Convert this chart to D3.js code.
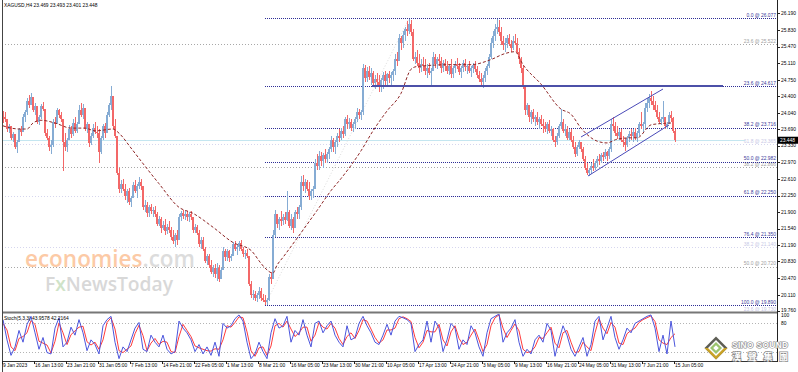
<!DOCTYPE html>
<html><head><meta charset="utf-8">
<script src="https://cdn.jsdelivr.net/npm/d3@7/dist/d3.min.js"></script>
<style>html,body{margin:0;padding:0;background:#fff;}svg{display:block;font-family:"Liberation Sans",Arial,sans-serif;}</style>
</head><body>
<svg id="c" width="798" height="372"></svg>
<script>
// ---------- DATA ----------
const firstOpen = 23.98;
const highs = [
24.08,24.05,23.90,23.80,23.72,23.62,23.50,23.45,23.72,23.75,24.02,24.10,24.35,24.42,24.46,24.35,24.25,24.15,24.00,24.22,24.28,23.95,23.68,23.55,23.45,
23.90,23.95,24.15,24.12,24.05,23.80,23.60,23.50,23.78,23.75,23.90,23.95,23.85,24.20,24.25,24.22,24.00,23.85,23.70,23.60,23.80,23.85,23.75,23.70,23.55,23.80,23.82,24.05,24.25,24.62,24.40,23.90,23.55,22.85,22.60,
22.62,22.50,22.40,22.42,22.25,22.55,22.58,22.50,22.65,22.62,22.30,22.15,22.12,22.05,22.08,22.00,22.02,21.90,21.82,21.80,21.70,21.75,21.65,21.70,21.58,21.50,21.45,21.50,21.85,21.93,
21.95,21.92,21.93,21.90,21.92,21.75,21.65,21.62,21.50,21.35,21.35,21.15,21.00,21.00,20.86,20.75,20.78,20.80,20.75,20.70,21.15,21.10,21.10,21.08,21.00,21.25,21.28,21.20,21.28,21.30,21.15,21.08,21.10,20.95,20.40,
20.22,20.20,20.15,20.28,20.25,20.12,20.10,20.05,20.55,20.60,21.50,21.95,21.85,21.80,21.92,21.85,21.90,22.35,21.95,21.85,21.80,21.95,22.00,22.05,22.68,
22.70,22.62,22.60,22.55,22.40,22.45,23.05,23.15,23.22,23.20,23.18,23.25,23.20,23.30,23.55,23.50,23.45,23.60,23.70,23.72,23.75,23.95,24.00,23.92,23.90,23.85,23.95,24.15,24.12,24.10,
25.10,25.08,25.02,25.05,25.00,24.95,24.85,24.90,24.85,24.80,24.92,24.95,24.90,24.95,24.92,24.98,25.30,25.35,25.75,25.70,25.80,25.90,26.02,26.07,26.05,25.85,25.35,25.40,25.30,25.20,
25.25,25.20,25.10,25.12,25.00,25.35,25.30,25.25,25.30,25.25,25.18,25.20,25.15,25.10,25.20,25.05,25.15,25.22,25.12,25.05,25.18,25.20,25.10,25.15,25.05,25.12,25.15,25.05,24.95,24.90,
24.85,25.00,25.10,25.30,25.65,25.80,25.95,26.07,26.05,25.90,25.70,25.65,25.72,25.75,25.62,25.70,25.75,25.65,25.45,25.25,
25.05,24.65,24.25,24.20,24.10,24.12,24.00,24.05,23.95,24.00,23.90,23.85,23.85,23.88,23.75,23.72,23.55,23.60,23.80,24.12,23.90,23.80,23.75,23.70,23.68,23.55,23.40,23.35,23.45,23.42,
23.30,23.10,22.95,22.85,22.95,23.05,23.00,23.10,23.15,23.18,23.20,23.25,23.22,23.30,23.90,23.95,23.85,23.75,23.70,23.68,23.55,23.50,23.55,23.65,23.70,23.68,23.72,23.65,23.85,24.05,
23.85,24.25,24.35,24.45,24.51,24.40,24.30,24.20,24.05,23.95,24.30,23.95,23.85,24.05,24.08,23.95,23.70];
const lows = [
23.82,23.85,23.62,23.60,23.45,23.40,23.25,23.17,23.40,23.55,23.62,23.85,24.00,24.15,24.20,24.05,24.00,23.80,23.78,23.90,24.08,23.55,23.45,23.22,23.15,
23.30,23.72,23.80,23.92,23.85,22.79,23.22,23.20,23.45,23.50,23.55,23.60,23.60,23.80,23.95,23.90,23.65,23.60,23.30,23.35,23.50,23.58,23.50,22.95,23.15,23.45,23.50,23.60,23.95,24.10,23.70,23.50,22.70,22.30,22.30,
22.35,22.15,22.10,22.05,22.00,22.20,22.30,22.20,22.40,22.38,21.95,21.90,21.80,21.80,21.85,21.78,21.80,21.60,21.60,21.45,21.50,21.40,21.42,21.45,21.30,21.20,21.15,21.18,21.30,21.70,
21.75,21.72,21.70,21.68,21.72,21.45,21.45,21.40,21.15,21.10,21.05,20.80,20.75,20.70,20.55,20.50,20.48,20.40,20.38,20.45,20.65,20.85,20.85,20.82,20.85,20.95,21.05,20.98,21.05,21.05,20.92,20.88,20.90,20.30,20.05,
20.00,19.98,19.95,20.02,19.98,19.95,19.89,19.90,19.98,20.35,20.45,21.35,21.55,21.50,21.60,21.62,21.65,21.70,21.55,21.50,21.45,21.55,21.75,21.75,21.95,
22.35,22.30,22.35,22.15,22.15,22.20,22.40,22.80,22.80,22.90,22.85,22.95,22.95,23.05,23.20,23.20,23.15,23.30,23.40,23.45,23.50,23.55,23.70,23.68,23.65,23.62,23.70,23.85,23.90,23.88,
24.00,24.70,24.70,24.75,24.65,24.60,24.55,24.62,24.50,24.48,24.55,24.65,24.62,24.68,24.65,24.72,24.85,25.05,25.15,25.40,25.45,25.60,25.70,25.75,25.70,25.15,25.10,25.05,24.90,24.92,
24.95,24.85,24.80,24.85,24.60,24.95,25.00,24.98,25.05,24.90,24.92,24.95,24.88,24.85,24.80,24.80,24.90,24.98,24.85,24.80,24.92,24.95,24.88,24.90,24.82,24.90,24.92,24.80,24.70,24.62,
24.58,24.70,24.85,25.00,25.20,25.45,25.60,25.75,25.70,25.50,25.40,25.35,25.45,25.48,25.35,25.40,25.50,25.30,25.10,24.90,
24.55,24.00,24.00,23.85,23.80,23.85,23.75,23.78,23.70,23.75,23.60,23.62,23.58,23.60,23.55,23.40,23.30,23.35,23.50,23.70,23.60,23.55,23.45,23.45,23.40,23.25,23.08,23.10,23.25,23.20,
23.00,22.80,22.70,22.68,22.72,22.78,22.80,22.88,22.92,22.95,23.00,23.05,23.00,23.05,23.20,23.65,23.55,23.48,23.45,23.40,23.30,23.22,23.30,23.42,23.45,23.40,23.45,23.40,23.55,23.70,
23.60,23.70,24.05,24.15,24.20,24.10,24.05,23.90,23.80,23.78,23.85,23.70,23.68,23.80,23.85,23.60,23.40];
const closes = [
23.95,23.90,23.70,23.75,23.50,23.58,23.30,23.40,23.68,23.62,23.95,24.05,24.30,24.20,24.38,24.10,24.18,23.85,23.95,24.18,24.12,23.60,23.50,23.30,23.35,
23.85,23.80,24.10,24.00,23.90,23.40,23.30,23.45,23.70,23.58,23.82,23.65,23.80,24.10,24.00,24.15,23.70,23.80,23.38,23.55,23.72,23.62,23.60,23.20,23.50,23.75,23.60,24.00,24.20,24.40,23.75,23.55,22.75,22.40,22.50,
22.40,22.25,22.35,22.12,22.20,22.48,22.35,22.45,22.55,22.45,22.00,22.05,21.88,22.00,21.92,21.95,21.85,21.65,21.75,21.55,21.62,21.48,21.58,21.50,21.35,21.28,21.40,21.30,21.80,21.88,
21.82,21.85,21.78,21.85,21.80,21.50,21.58,21.45,21.20,21.30,21.10,20.85,20.95,20.75,20.60,20.70,20.55,20.70,20.45,20.65,21.05,20.92,21.05,20.90,20.95,21.20,21.10,21.15,21.22,21.10,21.00,21.02,20.95,20.35,20.10,
20.12,20.05,20.10,20.20,20.05,20.00,19.95,20.00,20.50,20.45,21.40,21.85,21.65,21.75,21.70,21.80,21.72,21.90,21.60,21.75,21.55,21.90,21.85,22.00,22.55,
22.45,22.55,22.40,22.25,22.35,22.40,22.95,22.90,23.10,23.00,23.12,23.05,23.15,23.25,23.45,23.30,23.40,23.55,23.50,23.65,23.58,23.90,23.80,23.85,23.72,23.80,23.90,24.05,24.00,24.05,
25.00,24.80,24.95,24.82,24.90,24.68,24.78,24.70,24.60,24.75,24.85,24.72,24.88,24.80,24.85,24.95,25.20,25.15,25.65,25.55,25.72,25.85,25.80,25.95,25.78,25.20,25.25,25.12,25.00,25.10,
25.05,24.95,25.00,24.90,24.95,25.25,25.10,25.20,25.15,25.00,25.12,25.05,24.95,25.05,24.88,25.00,25.10,25.05,24.92,25.00,25.12,25.02,25.05,24.95,25.00,25.08,24.98,24.85,24.78,24.70,
24.80,24.95,25.05,25.25,25.55,25.70,25.85,25.90,25.78,25.60,25.50,25.55,25.65,25.52,25.45,25.60,25.55,25.35,25.20,25.00,
24.60,24.10,24.20,23.95,24.05,23.90,23.95,23.85,23.90,23.80,23.75,23.70,23.80,23.65,23.70,23.45,23.40,23.55,23.75,23.85,23.65,23.70,23.50,23.62,23.45,23.30,23.15,23.30,23.40,23.25,
23.05,22.85,22.75,22.80,22.90,22.85,22.95,23.05,23.00,23.12,23.08,23.20,23.10,23.25,23.80,23.75,23.60,23.55,23.62,23.45,23.40,23.35,23.50,23.58,23.55,23.62,23.50,23.60,23.80,23.75,
23.80,24.15,24.25,24.35,24.30,24.20,24.10,23.95,23.85,23.90,23.95,23.75,23.80,24.00,23.92,23.65,23.45];

// moving average (bar index, price)
const maIdx = [0,4,9,12,15,19,26,34,41,46,55,58,64,69,78,88,95,105,115,124,129,131,135,137,140,147,157,164,169,179,185,192,199,204,207,224,234,244,251,256,260,269,279,284,289,297,302,307,314,317,324,327,334];
const maVal = [23.76,23.71,23.69,23.69,23.82,23.88,23.82,23.71,23.71,23.65,23.69,23.60,23.28,23.00,22.51,22.00,21.87,21.57,21.24,21.07,20.79,20.69,20.58,20.75,20.92,21.33,21.93,22.36,22.62,23.22,23.65,24.08,24.46,24.98,25.04,25.08,25.08,25.19,25.32,25.36,25.08,24.66,24.12,24.01,23.71,23.43,23.39,23.47,23.50,23.50,23.78,23.80,23.82];

// stochastic (one value every 2 bars)
const stochK = [88,45,12,30,65,40,78,95,60,25,50,18,15,70,92,30,40,72,55,88,60,22,45,35,15,75,88,95,40,5,30,20,45,70,82,25,20,55,40,30,55,25,15,20,85,70,60,45,20,35,15,30,12,40,10,80,70,75,90,98,85,40,5,15,40,20,5,60,90,70,75,95,40,65,55,88,55,30,80,85,60,75,85,55,40,30,75,45,50,80,95,75,60,40,35,55,78,55,85,95,92,88,80,20,35,45,85,40,85,70,20,45,80,70,25,45,35,75,60,30,10,60,90,95,100,40,60,70,88,40,10,25,15,45,55,40,80,65,10,45,75,55,25,10,30,50,10,35,85,95,45,70,95,50,25,45,70,60,80,85,90,95,98,70,20,55,15,85,30];
const stochD = [80,66,30,22,48,52,60,86,78,42,38,34,17,42,81,60,35,56,64,72,74,41,34,40,25,45,82,92,68,22,18,25,32,58,76,54,22,38,48,35,42,40,20,18,52,78,65,52,32,28,25,22,21,26,25,45,75,72,82,94,92,62,22,10,28,30,12,32,75,80,72,85,68,52,60,72,72,42,55,82,72,68,80,70,48,35,52,60,48,65,88,85,68,50,38,45,66,66,70,90,94,90,84,50,28,40,65,62,62,78,45,32,62,75,48,35,40,55,68,45,20,35,75,92,98,70,50,65,79,64,25,18,20,30,50,48,60,72,38,28,60,65,40,18,20,40,30,22,60,90,70,58,82,72,38,35,58,65,70,82,88,92,96,84,45,38,35,50,58];

const priceTicks = [19.760,20.110,20.470,20.830,21.190,21.540,21.900,22.250,22.610,22.970,23.330,23.690,24.040,24.400,24.750,25.110,25.470,25.830,26.190];
const timeLabels = ["9 Jan 2023","16 Jan 13:00","23 Jan 21:00","31 Jan 05:00","7 Feb 13:00","14 Feb 21:00","22 Feb 05:00","1 Mar 13:00","8 Mar 21:00","16 Mar 05:00","23 Mar 13:00","30 Mar 21:00","10 Apr 05:00","17 Apr 13:00","24 Apr 21:00","3 May 05:00","9 May 13:00","16 May 21:00","24 May 05:00","31 May 13:00","7 Jun 21:00","15 Jun 05:00"];
const timeLabelIdx = [0,16,32,48,64,80,96,112,128,144,160,176,192,208,224,240,256,272,288,304,320,336];

const fibLevels = ["0.0","23.6","38.2","50.0","61.8","76.4","100.0"];
const fibPrices = [26.077,24.617,23.716,22.982,22.250,21.350,19.890];
const fibStartIdx = 131.5;
const grayFibLevels = ["23.6","38.2","50.0"];
const grayFibPrices = [25.522,22.866,20.720];
const faintFibLevels = ["61.8","50.0","38.2","23.6"];
const faintFibPrices = [23.365,22.250,21.140,19.730];
const faintFibShowLabel = [true,false,true,true];
const fibTrend = [[131,19.89],[203,26.077]];
const channelUpper = [[289.5,23.518],[330.5,24.554]];
const channelLower = [[293,22.676],[333.5,23.777]];
const hLine = [[185,24.617],[360.5,24.617]];
const bidPrice = 23.448;
const stochLevels = [80,20];
const stochAxisLabels = ["100","80"];
const stochAxisPos = [96.5,80];

// ---------- CHART ----------
const svg = d3.select('#c');
const L = 2, R = 777.5, mainBot = 311, stTop = 314, stBot = 361;
const xs = d3.scaleLinear().domain([0,336]).range([2,674]);
const ys = d3.scaleLinear().domain([19.761,26.476]).range([311,0]);
const yst = d3.scaleLinear().domain([0,100]).range([361,314]);
const fs = 4.9;

const defs = svg.append('defs');
defs.append('clipPath').attr('id','cm').append('rect').attr('x',L).attr('y',0).attr('width',R-L).attr('height',mainBot);
defs.append('clipPath').attr('id','cs').append('rect').attr('x',L).attr('y',stTop).attr('width',R-L).attr('height',stBot-stTop);

// watermark
const wm = svg.append('g');
wm.append('text').attr('x',25).attr('y',266.5).attr('font-size',23).attr('textLength',170).attr('lengthAdjust','spacingAndGlyphs')
  .attr('font-family','"Open Sans","DejaVu Sans",sans-serif').attr('font-weight',600)
  .call(t=>{t.append('tspan').attr('fill','#fccaa6').text('economies');t.append('tspan').attr('fill','#dcdcdc').text('.com');});
wm.append('text').attr('x',45).attr('y',291).attr('font-size',19).attr('textLength',128).attr('lengthAdjust','spacingAndGlyphs')
  .attr('font-family','"Open Sans","DejaVu Sans",sans-serif').attr('font-weight',600).attr('fill','#d8d8d8')
  .call(t=>{t.append('tspan').text('F');t.append('tspan').attr('fill','#cfe3c8').text('x');t.append('tspan').text('NewsToday');});

const main = svg.append('g').attr('clip-path','url(#cm)');

// gray & faint fib lines (full width)
grayFibPrices.forEach((p,i)=>{
  main.append('line').attr('x1',L).attr('x2',R).attr('y1',Math.round(ys(p))+0.5).attr('y2',Math.round(ys(p))+0.5)
    .attr('stroke','#a8a8a8').attr('stroke-dasharray','1,2');
  main.append('text').attr('x',776).attr('y',ys(p)-1.5).attr('text-anchor','end').attr('font-size',fs).attr('fill','#a0a0a0')
    .text(grayFibLevels[i]+' @ '+p.toFixed(3));
});
faintFibPrices.forEach((p,i)=>{
  main.append('line').attr('x1',L).attr('x2',R).attr('y1',Math.round(ys(p))+0.5).attr('y2',Math.round(ys(p))+0.5)
    .attr('stroke','#d6d6ee').attr('stroke-dasharray','1,2');
  if(faintFibShowLabel[i]) main.append('text').attr('x',776).attr('y',ys(p)-1.5).attr('text-anchor','end').attr('font-size',fs).attr('fill','#c8c8e6')
    .text(faintFibLevels[i]+' @ '+p.toFixed(3));
});
// bid line
main.append('line').attr('x1',L).attr('x2',745).attr('y1',Math.round(ys(bidPrice))+0.5).attr('y2',Math.round(ys(bidPrice))+0.5).attr('stroke','#c4e6f0');

// fib trend line
main.append('line').attr('x1',xs(fibTrend[0][0])+1).attr('y1',ys(fibTrend[0][1])).attr('x2',xs(fibTrend[1][0])+1).attr('y2',ys(fibTrend[1][1]))
  .attr('stroke','#dcdcdc').attr('stroke-dasharray','1,2');
// main fib lines
fibPrices.forEach((p,i)=>{
  const y = Math.round(ys(p))+0.5;
  main.append('line').attr('x1',xs(fibStartIdx)).attr('x2',R).attr('y1',y).attr('y2',y)
    .attr('stroke','#2e2e96').attr('stroke-dasharray','1,1');
  main.append('text').attr('x',776).attr('y',ys(p)-1.5).attr('text-anchor','end').attr('font-size',fs).attr('fill','#3a3a9a')
    .text(fibLevels[i]+' @ '+p.toFixed(3));
});

// candles
const bars = closes.map((c,i)=>({i,h:highs[i],l:lows[i],c,o:i===0?firstOpen:closes[i-1]}));
const cg = main.append('g').attr('shape-rendering','crispEdges');
const colUp = '#86acd4', colDn = '#f36868';
cg.selectAll('rect.w').data(bars).join('rect').attr('class','w')
  .attr('x',d=>xs(d.i)+0.5).attr('width',1)
  .attr('y',d=>ys(d.h)).attr('height',d=>Math.max(1,ys(d.l)-ys(d.h)))
  .attr('fill',d=>d.c>=d.o?colUp:colDn);
cg.selectAll('rect.b').data(bars).join('rect').attr('class','b')
  .attr('x',d=>xs(d.i)).attr('width',2)
  .attr('y',d=>ys(Math.max(d.o,d.c))).attr('height',d=>Math.max(1,Math.abs(ys(d.o)-ys(d.c))))
  .attr('fill',d=>d.c>=d.o?colUp:colDn);

// moving average
main.append('path').datum(maIdx.map((k,i)=>[k,maVal[i]]))
  .attr('d',d3.line().x(d=>xs(d[0])+1).y(d=>ys(d[1])).curve(d3.curveMonotoneX))
  .attr('fill','none').attr('stroke','#8e2626').attr('stroke-width',1).attr('stroke-dasharray','3,2');

// channel & horizontal line
[channelUpper,channelLower].forEach(seg=>{
  main.append('line').attr('x1',xs(seg[0][0])).attr('y1',ys(seg[0][1])).attr('x2',xs(seg[1][0])).attr('y2',ys(seg[1][1]))
    .attr('stroke','#4a4ab8').attr('stroke-width',1);
});
main.append('line').attr('x1',xs(hLine[0][0])).attr('x2',xs(hLine[1][0])).attr('y1',ys(hLine[0][1])).attr('y2',ys(hLine[1][1]))
  .attr('stroke','#4c50a8').attr('stroke-width',2);

// title
svg.append('text').attr('x',4).attr('y',6.5).attr('font-size',fs).attr('fill','#000').text('XAGUSD,H4  23.469 23.493 23.401 23.448');

// ---------- STOCH ----------
const st = svg.append('g').attr('clip-path','url(#cs)');
stochLevels.forEach(v=>{
  st.append('line').attr('x1',L).attr('x2',R).attr('y1',Math.round(yst(v))+0.5).attr('y2',Math.round(yst(v))+0.5)
    .attr('stroke','#b4b4b4').attr('stroke-dasharray','1,2');
});
const sx = (i)=>xs(i*2)+1;
st.append('path').datum(stochD).attr('d',d3.line().x((d,i)=>sx(i)).y(d=>yst(d)))
  .attr('fill','none').attr('stroke','#ff3b3b').attr('stroke-width',1);
st.append('path').datum(stochK).attr('d',d3.line().x((d,i)=>sx(i)).y(d=>yst(d)))
  .attr('fill','none').attr('stroke','#4b55dc').attr('stroke-width',1);
svg.append('text').attr('x',4).attr('y',319.5).attr('font-size',fs).attr('fill','#000').text('Stoch(5,3,3) 43.9578 42.2164');

// ---------- FRAME & AXES ----------
svg.append('rect').attr('x',L).attr('y',mainBot+0.5).attr('width',R-L).attr('height',2).attr('fill','#777');
svg.append('line').attr('x1',L).attr('x2',R).attr('y1',stBot+0.5).attr('y2',stBot+0.5).attr('stroke','#333');
svg.append('line').attr('x1',L+0.5).attr('x2',L+0.5).attr('y1',0).attr('y2',372).attr('stroke','#444');
svg.append('line').attr('x1',R).attr('x2',R).attr('y1',0).attr('y2',stBot+1).attr('stroke','#222');

const pa = svg.append('g');
priceTicks.forEach((p,i)=>{
  const y = ys(p);
  pa.append('line').attr('x1',R).attr('x2',R+2.5).attr('y1',Math.round(y)+0.5).attr('y2',Math.round(y)+0.5).attr('stroke','#222');
  pa.append('text').attr('x',781).attr('y',i===0?y-1:y).attr('dy','0.35em').attr('font-size',fs).attr('fill','#000').text(p.toFixed(3));
});
stochAxisLabels.forEach((t,i)=>{
  svg.append('text').attr('x',781).attr('y',yst(stochAxisPos[i])).attr('dy','0.35em').attr('font-size',fs).attr('fill','#000').text(t);
});
// current price box
const by = ys(bidPrice);
svg.append('rect').attr('x',778).attr('y',by-3.5).attr('width',20).attr('height',7).attr('fill','#000');
svg.append('text').attr('x',780).attr('y',by).attr('dy','0.35em').attr('font-size',fs).attr('fill','#fff').text(bidPrice.toFixed(3));

// time axis
timeLabelIdx.forEach((k,i)=>{
  const x = xs(k);
  svg.append('line').attr('x1',Math.round(x)+0.5).attr('x2',Math.round(x)+0.5).attr('y1',stBot).attr('y2',stBot+3).attr('stroke','#222');
  svg.append('text').attr('x',x+1).attr('y',366.8).attr('font-size',fs).attr('fill','#000').text(timeLabels[i]);
});

// ---------- LOGO ----------
const lg = svg.append('g');
const cx=716, cy=348;
const dia = r=>`M${cx},${cy-r}L${cx+r},${cy}L${cx},${cy+r}L${cx-r},${cy}Z`;
lg.append('path').attr('d',dia(11.5)).attr('fill','#5e5e55');
lg.append('path').attr('d',`M${cx-11.5},${cy}L${cx},${cy+11.5}L${cx+11.5},${cy}Z`).attr('fill','#c9a227');
lg.append('path').attr('d',dia(8)).attr('fill','#fff');
lg.append('path').attr('d',dia(6)).attr('fill','#9cc46e');
lg.append('path').attr('d',dia(2.8)).attr('fill','#fff');
lg.append('text').attr('x',732).attr('y',347.5).attr('font-size',8.3).attr('font-weight','bold').attr('fill','#fff')
  .attr('stroke','#8a8a8a').attr('stroke-width',1.2).attr('paint-order','stroke').attr('textLength',56).text('SINO SOUND');
['漢','聲','集','團'].forEach((ch,i)=>{
  lg.append('text').attr('x',732+i*15.7).attr('y',359.5).attr('font-size',9).attr('font-family','"Noto Sans CJK TC",sans-serif')
    .attr('font-weight','bold').attr('fill','#fff').attr('stroke','#8a8a8a').attr('stroke-width',1.4).attr('paint-order','stroke').text(ch);
});
</script>
</body></html>
